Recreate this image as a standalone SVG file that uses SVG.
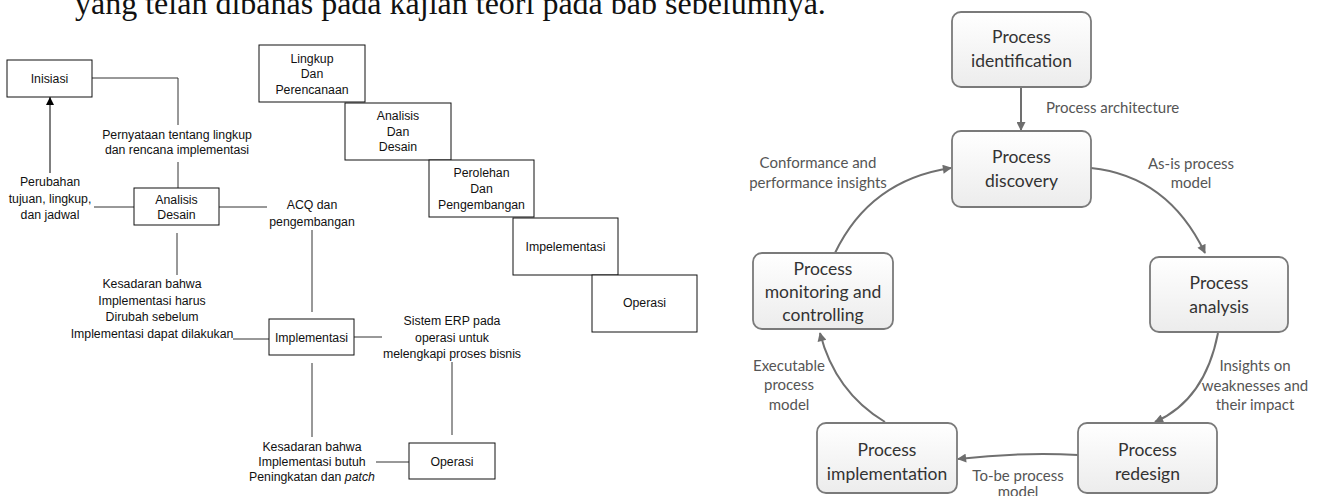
<svg xmlns="http://www.w3.org/2000/svg" width="1322" height="496" viewBox="0 0 1322 496">
<style>
.bg{fill:#fff}
.box{fill:#fff;stroke:#111;stroke-width:1}
.lt{font-family:"Liberation Sans",Arial,sans-serif;font-size:12.3px;fill:#111;text-anchor:middle}
.ln{stroke:#333;stroke-width:1;fill:none}
.rn{fill:url(#g);stroke:#7a7a7a;stroke-width:1.8}
.rt{font-family:Lato,"Open Sans",sans-serif;font-size:17.5px;fill:#333;text-anchor:middle}
.rl{font-family:Lato,"Open Sans",sans-serif;font-size:15px;fill:#555;text-anchor:middle}
.ar{stroke:#707070;stroke-width:2;fill:none;marker-end:url(#ga)}
.top{font-family:"Liberation Serif","Times New Roman",serif;font-size:32px;fill:#111}
</style>
<defs>
<linearGradient id="g" x1="0" y1="0" x2="0" y2="1"><stop offset="0" stop-color="#ffffff"/><stop offset="1" stop-color="#ececec"/></linearGradient>
<marker id="ba" viewBox="0 0 10 10" refX="10" refY="5" markerWidth="10" markerHeight="8" markerUnits="userSpaceOnUse" orient="auto"><path d="M0,0 L10,5 L0,10 z" fill="#000"/></marker>
<marker id="ga" viewBox="0 0 10 10" refX="9" refY="5" markerWidth="11" markerHeight="9" markerUnits="userSpaceOnUse" orient="auto"><path d="M0,0 L10,5 L0,10 z" fill="#6e6e6e"/></marker>
</defs>
<rect class="bg" x="0" y="0" width="1322" height="496"/>
<text class="top" x="75" y="13.5">yang telah dibahas pada kajian teori pada bab sebelumnya.</text>

<g id="left-connectors">
<polyline class="ln" points="92,78 178,78 178,125"/>
<line class="ln" x1="178" y1="162" x2="178" y2="188"/>
<line class="ln" x1="134" y1="207" x2="94" y2="207"/>
<line class="ln" x1="50" y1="173" x2="50" y2="97" style="stroke:#000;marker-end:url(#ba)"/>
<line class="ln" x1="219" y1="207" x2="267" y2="207"/>
<line class="ln" x1="312" y1="230" x2="312" y2="312"/>
<line class="ln" x1="177" y1="233" x2="177" y2="275"/>
<line class="ln" x1="233" y1="339" x2="269" y2="339"/>
<line class="ln" x1="354" y1="337" x2="382" y2="337"/>
<line class="ln" x1="452" y1="362" x2="452" y2="435"/>
<line class="ln" x1="312" y1="363" x2="312" y2="437"/>
<line class="ln" x1="409" y1="462" x2="376" y2="462"/>
</g>

<g id="inisiasi"><rect class="box" x="7" y="60" width="85" height="37"/><text class="lt" x="49.5" y="83">Inisiasi</text></g>
<g id="analisis-desain"><rect class="box" x="134" y="188" width="85" height="37"/><text class="lt" x="176.5" y="204">Analisis</text><text class="lt" x="176.5" y="219">Desain</text></g>
<g id="implementasi"><rect class="box" x="269" y="319" width="85" height="36"/><text class="lt" x="311.5" y="341.5">Implementasi</text></g>
<g id="operasi"><rect class="box" x="409" y="443" width="86" height="36"/><text class="lt" x="452" y="466">Operasi</text></g>

<g id="left-labels">
<text class="lt" x="177" y="139">Pernyataan tentang lingkup</text>
<text class="lt" x="177" y="154">dan rencana implementasi</text>
<text class="lt" x="50" y="186">Perubahan</text>
<text class="lt" x="50" y="202.5">tujuan, lingkup,</text>
<text class="lt" x="50" y="219">dan jadwal</text>
<text class="lt" x="312" y="209">ACQ dan</text>
<text class="lt" x="312" y="226">pengembangan</text>
<text class="lt" x="152" y="288">Kesadaran bahwa</text>
<text class="lt" x="152" y="304.5">Implementasi harus</text>
<text class="lt" x="152" y="321">Dirubah sebelum</text>
<text class="lt" x="152" y="337.5">Implementasi dapat dilakukan</text>
<text class="lt" x="452" y="325">Sistem ERP pada</text>
<text class="lt" x="452" y="341.5">operasi untuk</text>
<text class="lt" x="452" y="358">melengkapi proses bisnis</text>
<text class="lt" x="312" y="451">Kesadaran bahwa</text>
<text class="lt" x="312" y="466">Implementasi butuh</text>
<text class="lt" x="312" y="481">Peningkatan dan <tspan font-style="italic">patch</tspan></text>
</g>

<g id="wf-lingkup"><rect class="box" x="259" y="45" width="106" height="57"/><text class="lt" x="312" y="62.5">Lingkup</text><text class="lt" x="312" y="78">Dan</text><text class="lt" x="312" y="94">Perencanaan</text></g>
<g id="wf-analisis"><rect class="box" x="345" y="103" width="106" height="57"/><text class="lt" x="398" y="120">Analisis</text><text class="lt" x="398" y="135.5">Dan</text><text class="lt" x="398" y="151">Desain</text></g>
<g id="wf-perolehan"><rect class="box" x="429" y="160" width="105" height="57"/><text class="lt" x="481.5" y="177">Perolehan</text><text class="lt" x="481.5" y="192.5">Dan</text><text class="lt" x="481.5" y="208.5">Pengembangan</text></g>
<g id="wf-implementasi"><rect class="box" x="513" y="218" width="105" height="57"/><text class="lt" x="565.5" y="251">Impelementasi</text></g>
<g id="wf-operasi"><rect class="box" x="592" y="275" width="105" height="57"/><text class="lt" x="644.5" y="307">Operasi</text></g>

<g id="right-connectors">
<line class="ar" x1="1021" y1="88" x2="1021" y2="130"/>
<path class="ar" d="M1091,168 Q1168,176 1205,253"/>
<path class="ar" d="M1218,333 Q1205,400 1155,422"/>
<path class="ar" d="M1078,455 Q1020,452 958,459"/>
<path class="ar" d="M885,422 Q835,392 820,333"/>
<path class="ar" d="M835,253 Q870,180 951,168"/>
</g>

<g id="p-identification"><rect class="rn" x="952" y="12" width="139" height="75" rx="9"/><text class="rt" x="1021.5" y="43">Process</text><text class="rt" x="1021.5" y="67">identification</text></g>
<g id="p-discovery"><rect class="rn" x="952" y="131" width="139" height="76" rx="9"/><text class="rt" x="1021.5" y="163">Process</text><text class="rt" x="1021.5" y="187">discovery</text></g>
<g id="p-analysis"><rect class="rn" x="1150" y="257" width="138" height="75" rx="9"/><text class="rt" x="1219" y="289">Process</text><text class="rt" x="1219" y="313">analysis</text></g>
<g id="p-redesign"><rect class="rn" x="1078" y="423" width="139" height="70" rx="9"/><text class="rt" x="1147.5" y="456">Process</text><text class="rt" x="1147.5" y="480">redesign</text></g>
<g id="p-implementation"><rect class="rn" x="817" y="423" width="140" height="70" rx="9"/><text class="rt" x="887" y="456">Process</text><text class="rt" x="887" y="480">implementation</text></g>
<g id="p-monitoring"><rect class="rn" x="753" y="253" width="140" height="76" rx="9"/><text class="rt" x="823" y="275">Process</text><text class="rt" x="823" y="298">monitoring and</text><text class="rt" x="823" y="321">controlling</text></g>

<g id="right-labels">
<text class="rl" x="1046" y="113" style="text-anchor:start">Process architecture</text>
<text class="rl" x="1191" y="169">As-is process</text>
<text class="rl" x="1191" y="188">model</text>
<text class="rl" x="818" y="168">Conformance and</text>
<text class="rl" x="818" y="188">performance insights</text>
<text class="rl" x="1255" y="371">Insights on</text>
<text class="rl" x="1255" y="391">weaknesses and</text>
<text class="rl" x="1255" y="410">their impact</text>
<text class="rl" x="789" y="371">Executable</text>
<text class="rl" x="789" y="390">process</text>
<text class="rl" x="789" y="410">model</text>
<text class="rl" x="1018" y="481">To-be process</text>
<text class="rl" x="1018" y="497">model</text>
</g>
</svg>
